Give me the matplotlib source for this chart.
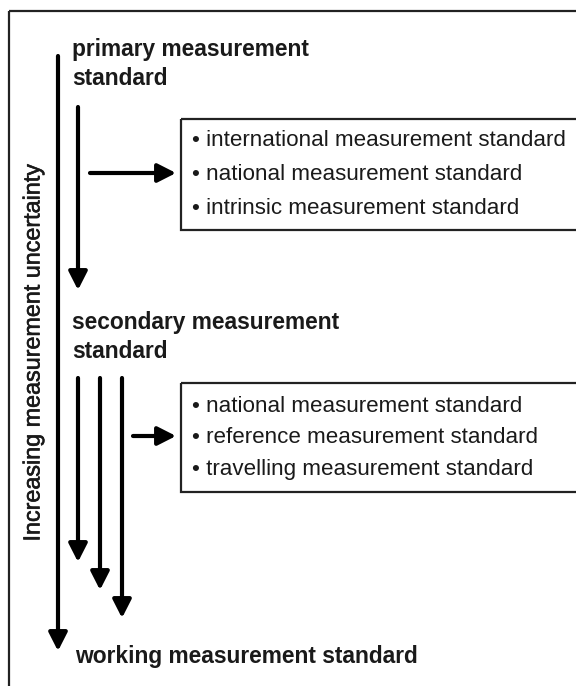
import matplotlib
matplotlib.use("Agg")
import matplotlib.pyplot as plt
from matplotlib.patches import Rectangle
import matplotlib.patheffects as pe

plt.rcParams['font.family'] = ['Liberation Sans', 'DejaVu Sans']

# --- content ---
axis_label = "Increasing measurement uncertainty"
primary_label = "primary measurement\nstandard"
secondary_label = "secondary measurement\nstandard"
working_label = "working measurement standard"
primary_items = ["international measurement standard",
                 "national measurement standard",
                 "intrinsic measurement standard"]
secondary_items = ["national measurement standard",
                   "reference measurement standard",
                   "travelling measurement standard"]

W, H = 576, 686
fig = plt.figure(figsize=(W / 100, H / 100), dpi=100)
ax = fig.add_axes([0, 0, 1, 1])
ax.set_xlim(0, W)
ax.set_ylim(H, 0)
ax.axis('off')

TXT = '#1a1a1a'

# outer frame (top and left visible; extends beyond canvas)
ax.add_patch(Rectangle((9, 11), 600, 700, fill=False, lw=1.6, ec='#222222'))

def arrow(x0, y0, x1, y1, lw=3.0, ms=20):
    ax.annotate('', xy=(x1, y1), xytext=(x0, y0),
                arrowprops=dict(arrowstyle='-|>,head_length=0.55,head_width=0.28',
                                lw=lw, color='black',
                                mutation_scale=ms, shrinkA=0, shrinkB=0))

# long axis arrow
arrow(58, 56, 58, 651)
ax.text(33, 352, axis_label, rotation=90, ha='center', va='center',
        fontsize=16.8, color=TXT,
        path_effects=[pe.withStroke(linewidth=0.4, foreground=TXT)])

# primary
ax.text(72, 64, primary_label, ha='left', va='center', fontsize=16.4,
        fontweight='bold', linespacing=1.28, color=TXT)
arrow(78, 107, 78, 290)
arrow(90, 173, 176, 173)
ax.add_patch(Rectangle((181, 119), 420, 111, fill=False, lw=1.6, ec='#222222'))
for i, t in enumerate(primary_items):
    ax.text(192, 141 + i * 33.5, "\u2022 " + t, ha='left', va='center',
            fontsize=16.1, color=TXT)

# secondary
ax.text(72, 337, secondary_label, ha='left', va='center', fontsize=16.4,
        fontweight='bold', linespacing=1.28, color=TXT)
for x, yend in zip([78, 100, 122], [562, 590, 618]):
    arrow(x, 378, x, yend)
arrow(133, 436, 176, 436)
ax.add_patch(Rectangle((181, 383), 420, 109, fill=False, lw=1.6, ec='#222222'))
for i, t in enumerate(secondary_items):
    ax.text(192, 406 + i * 31.5, "\u2022 " + t, ha='left', va='center',
            fontsize=16.1, color=TXT)

# working
ax.text(75, 656, working_label, ha='left', va='center', fontsize=16.4,
        fontweight='bold', color=TXT)

fig.savefig('out.png', dpi=100)
